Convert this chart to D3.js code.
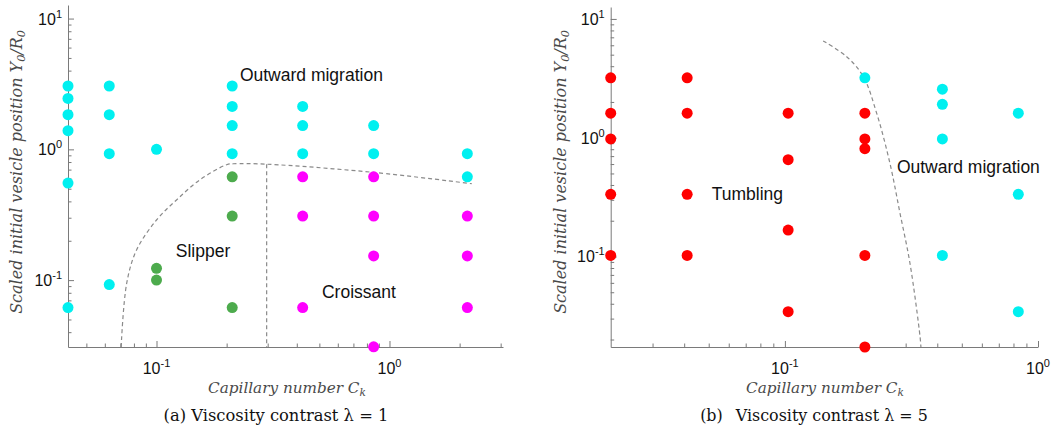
<!DOCTYPE html>
<html><head><meta charset="utf-8">
<script src="https://cdn.jsdelivr.net/npm/d3@7"></script>
<style>
body{margin:0;background:#fff;}
svg{display:block;}
</style></head>
<body>
<svg id="chart" width="1063" height="426"></svg>
<script>
// ---------- Data ----------
// Panel (a): viscosity contrast λ = 1
const aOutward = [
  [0.0417,3.05],[0.0417,2.45],[0.0417,1.84],[0.0417,1.39],[0.0417,0.552],[0.0417,0.0617],
  [0.0627,3.05],[0.0627,1.84],[0.0627,0.926],[0.0627,0.0925],
  [0.1,1.0],
  [0.2113,3.05],[0.2113,2.13],[0.2113,1.52],[0.2113,0.926],
  [0.424,2.13],[0.424,1.52],[0.424,0.926],
  [0.855,1.52],[0.855,0.926],
  [2.158,0.926],[2.158,0.617]
];
const aSlipper = [[0.1,0.123],[0.1,0.1],[0.2113,0.617],[0.2113,0.309],[0.2113,0.0617]];
const aCroissant = [
  [0.424,0.617],[0.424,0.309],[0.424,0.0617],
  [0.855,0.617],[0.855,0.309],[0.855,0.153],[0.855,0.0309],
  [2.158,0.309],[2.158,0.153],[2.158,0.0617]
];
const aBoundaryCurve = [[0.0705,0.0308],[0.0745,0.0948],[0.0822,0.1706],[0.1002,0.2895],[0.1222,0.412],[0.1538,0.586],[0.200,0.763],[0.2137,0.776],[0.297,0.77],[0.852,0.667],[2.254,0.546]];
const aBoundaryVertical = [[0.297,0.77],[0.297,0.0308]];

// Panel (b): viscosity contrast λ = 5
const bTumbling = [
  [0.0205,3.19],[0.0205,1.61],[0.0205,0.976],[0.0205,0.334],[0.0205,0.102],
  [0.0411,3.19],[0.0411,1.61],[0.0411,0.334],[0.0411,0.102],
  [0.103,1.61],[0.103,0.653],[0.103,0.167],[0.103,0.0343],
  [0.207,1.61],[0.207,0.976],[0.207,0.809],[0.207,0.102],[0.207,0.0173]
];
const bOutward = [
  [0.207,3.19],
  [0.419,2.56],[0.419,1.91],[0.419,0.976],[0.419,0.102],
  [0.836,1.61],[0.836,0.334],[0.836,0.0343]
];
const bBoundaryCurve = [[0.1416,6.53],[0.1754,4.81],[0.204,3.27],[0.2304,1.61],[0.260,0.609],[0.285,0.231],[0.312,0.0877],[0.342,0.0211],[0.3447,0.0173]];

// axis extents
const aXDomain = [0.0417, 3.07], aYDomain = [0.0308, 12.7];
const bXDomain = [0.0205, 1.0],  bYDomain = [0.0173, 12.6];
const majorTicksAX = [0.1, 1], majorTicksAY = [0.1, 1, 10];
const majorTicksBX = [0.1, 1], majorTicksBY = [0.1, 1, 10];
const tickExponentsAX = ["-1","0"], tickExponentsAY = ["-1","0","1"];
const tickExponentsBX = ["-1","0"], tickExponentsBY = ["-1","0","1"];

const xTitle = "Capillary number ";
const yTitle = "Scaled initial vesicle position ";
const captions = ["(a) Viscosity contrast \u03bb = 1", "(b)\u2002 Viscosity contrast \u03bb = 5"];

const COLORS = {cyan:"#00f0f0", green:"#4dab4d", magenta:"#ff00ff", red:"#ff0000"};

const svg = d3.select("#chart");

function minorTicks(dom){
  const out=[];
  const lo=Math.floor(Math.log10(dom[0])), hi=Math.ceil(Math.log10(dom[1]));
  for(let e=lo;e<=hi;e++){
    for(let m=2;m<=9;m++){
      const v=m*Math.pow(10,e);
      if(v>=dom[0]*0.999 && v<=dom[1]*1.001) out.push(v);
    }
  }
  return out;
}

// scale a text element's font so its rendered width matches a target
function fitWidth(sel, target){
  const n = sel.node();
  const w = n.getComputedTextLength ? n.getComputedTextLength() : n.getBBox().width;
  if(w>0){
    const k = target / w;
    sel.attr("font-size", +sel.attr("font-size") * k);
    sel.selectAll("tspan").each(function(){
      const t = d3.select(this);
      if(t.attr("font-size")) t.attr("font-size", +t.attr("font-size")*k);
      if(t.attr("dy")) t.attr("dy", +t.attr("dy")*k);
    });
  }
}

const sf = "'DejaVu Serif', 'Liberation Serif', serif";
const lf = "'Liberation Sans', Arial, Helvetica, sans-serif";

function panel(cfg){
  const x = d3.scaleLog().domain(cfg.xDomain).range(cfg.xRange);
  const y = d3.scaleLog().domain(cfg.yDomain).range(cfg.yRange);
  const g = svg.append("g");

  // dashed boundaries
  const line = d3.line().x(d=>x(d[0])).y(d=>y(d[1]));
  cfg.curves.forEach(c=>{
    g.append("path").attr("d", line.curve(c.curve)(c.data))
      .attr("fill","none").attr("stroke","#8a8a8a").attr("stroke-width",1.2)
      .attr("stroke-dasharray","4,3");
  });

  // axes
  const axColor = "#7a7a7a";
  g.append("g").attr("transform",`translate(0,${cfg.yRange[0]})`)
    .call(d3.axisBottom(x).tickValues(cfg.xMajor).tickSizeInner(-6).tickSizeOuter(0).tickFormat(""));
  g.append("g").attr("transform",`translate(0,${cfg.yRange[0]})`)
    .call(d3.axisBottom(x).tickValues(minorTicks(cfg.xDomain)).tickSizeInner(-3.5).tickSizeOuter(0).tickFormat(""))
    .select(".domain").remove();
  g.append("g").attr("transform",`translate(${cfg.xRange[0]},0)`)
    .call(d3.axisLeft(y).tickValues(cfg.yMajor).tickSizeInner(-6).tickSizeOuter(0).tickFormat(""));
  g.append("g").attr("transform",`translate(${cfg.xRange[0]},0)`)
    .call(d3.axisLeft(y).tickValues(minorTicks(cfg.yDomain)).tickSizeInner(-3.5).tickSizeOuter(0).tickFormat(""))
    .select(".domain").remove();
  g.selectAll(".domain, .tick line").attr("stroke",axColor).attr("stroke-width",1);

  // tick labels
  cfg.xMajor.forEach((v,i)=>{
    const t = g.append("text").attr("x",x(v)).attr("y",cfg.yRange[0]+27)
      .attr("text-anchor","middle").attr("font-family",lf).attr("font-size",16).attr("fill","#111");
    t.append("tspan").text("10");
    t.append("tspan").attr("dy",-7).attr("font-size",11).text(cfg.xExp[i]);
  });
  cfg.yMajor.forEach((v,i)=>{
    const t = g.append("text").attr("x",cfg.xRange[0]-6).attr("y",y(v)+6)
      .attr("text-anchor","end").attr("font-family",lf).attr("font-size",16).attr("fill","#111");
    t.append("tspan").text("10");
    t.append("tspan").attr("dy",-7).attr("font-size",11).text(cfg.yExp[i]);
  });

  // points
  cfg.series.forEach(s=>{
    g.selectAll(null).data(s.data).join("circle")
      .attr("cx",d=>x(d[0])).attr("cy",d=>y(d[1])).attr("r",5.5).attr("fill",s.color);
  });

  // region labels
  cfg.labels.forEach(l=>{
    g.append("text").attr("x",x(l.x)).attr("y",y(l.y)).attr("font-family",lf)
      .attr("font-size",17.5).attr("fill","#111").text(l.text);
  });

  // axis titles
  const xt = g.append("text").attr("x",cfg.xTitleX).attr("y",393).attr("text-anchor","middle")
    .attr("font-family",sf).attr("font-style","italic").attr("font-size",15).attr("fill","#4a4a4a");
  xt.append("tspan").text(xTitle + "C");
  xt.append("tspan").attr("dy",3).attr("font-size",10.5).text("k");
  fitWidth(xt, 158);

  const yt = g.append("text").attr("transform",`translate(${cfg.yTitleX},172) rotate(-90)`)
    .attr("text-anchor","middle").attr("font-family",sf).attr("font-style","italic")
    .attr("font-size",15).attr("fill","#4a4a4a");
  yt.append("tspan").text(yTitle + "Y");
  yt.append("tspan").attr("dy",3).attr("font-size",10.5).text("0");
  yt.append("tspan").attr("dy",-3).text("/R");
  yt.append("tspan").attr("dy",3).attr("font-size",10.5).text("0");
  fitWidth(yt, 284);

  const cap = g.append("text").attr("x",cfg.captionX).attr("y",421).attr("text-anchor","middle")
    .attr("font-family",sf).attr("font-size",16).attr("fill","#111").text(cfg.caption);
  fitWidth(cap, cfg.captionW);
}

panel({
  xDomain:aXDomain, yDomain:aYDomain, xRange:[68,503], yRange:[347,5],
  xMajor:majorTicksAX, yMajor:majorTicksAY, xExp:tickExponentsAX, yExp:tickExponentsAY,
  curves:[{data:aBoundaryCurve, curve:d3.curveCatmullRom}, {data:aBoundaryVertical, curve:d3.curveLinear}],
  series:[{data:aOutward,color:COLORS.cyan},{data:aSlipper,color:COLORS.green},{data:aCroissant,color:COLORS.magenta}],
  labels:[{text:"Outward migration",x:0.228,y:3.35},{text:"Slipper",x:0.121,y:0.151},{text:"Croissant",x:0.513,y:0.0732}],
  xTitleX:287, yTitleX:22, captionX:276, captionW:225, caption:captions[0]
});
panel({
  xDomain:bXDomain, yDomain:bYDomain, xRange:[610.7,1038], yRange:[347,7],
  xMajor:majorTicksBX, yMajor:majorTicksBY, xExp:tickExponentsBX, yExp:tickExponentsBY,
  curves:[{data:bBoundaryCurve, curve:d3.curveCatmullRom}],
  series:[{data:bTumbling,color:COLORS.red},{data:bOutward,color:COLORS.cyan}],
  labels:[{text:"Tumbling",x:0.0514,y:0.299},{text:"Outward migration",x:0.277,y:0.505}],
  xTitleX:825, yTitleX:566, captionX:814, captionW:228, caption:captions[1]
});
</script>
</body></html>
